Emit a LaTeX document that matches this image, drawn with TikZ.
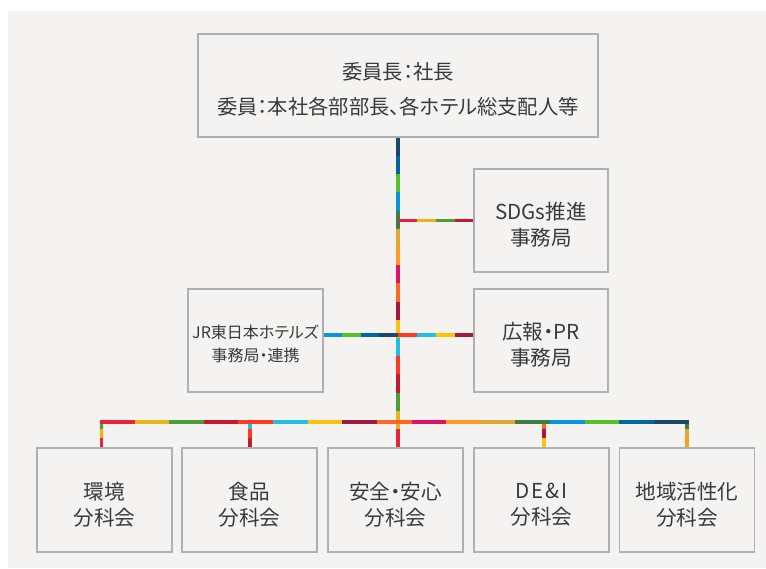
\documentclass[tikz,border=0pt]{standalone}
\usepackage{fontspec}
\setmainfont[RawFeature=+palt]{Noto Sans CJK JP}
\usetikzlibrary{calc}
\definecolor{bg}{HTML}{F4F3F1}
\definecolor{boxline}{HTML}{B0B0B0}
\definecolor{txt}{HTML}{3A3A3A}
\definecolor{s1}{HTML}{E5243B}
\definecolor{s2}{HTML}{E8B416}
\definecolor{s3}{HTML}{4C9F38}
\definecolor{s4}{HTML}{C5192D}
\definecolor{s5}{HTML}{FF3A21}
\definecolor{s6}{HTML}{26BDE2}
\definecolor{s7}{HTML}{FCC30B}
\definecolor{s8}{HTML}{A21942}
\definecolor{s9}{HTML}{FD6925}
\definecolor{s10}{HTML}{DD1367}
\definecolor{s11}{HTML}{FD9D24}
\definecolor{s12}{HTML}{E2A72E}
\definecolor{s13}{HTML}{3F7E44}
\definecolor{s14}{HTML}{0A97D9}
\definecolor{s15}{HTML}{56C02B}
\definecolor{s16}{HTML}{00689D}
\definecolor{s17}{HTML}{19486A}
\newcommand\segline[4]{%
  \foreach \col [count=\i from 0] in {#4} {%
    \draw[seg, draw=\col] ($(#1)!{\i/#3}!(#2)$) -- ($(#1)!{(\i+1)/#3}!(#2)$);
  }}
\begin{document}
\begin{tikzpicture}[x=1pt,y=-1pt,
  box/.style={draw=boxline, fill=bg, line width=1.3pt, inner sep=0pt},
  tx/.style={align=center, text=txt, inner sep=0pt},
  topbox/.style={box, minimum width=400pt, minimum height=103pt},
  midbox/.style={box, minimum width=134pt, minimum height=103pt},
  jrbox/.style={box, minimum width=135pt, minimum height=103pt},
  botbox/.style={box, minimum width=135pt, minimum height=104pt},
  bigtx/.style={tx, font=\fontsize{20.3}{35}\selectfont},
  midtx/.style={tx, font=\fontsize{20.6}{26}\selectfont},
  jrtx/.style={tx, font=\fontsize{16}{23}\selectfont},
  seg/.style={line width=3.2pt, line cap=butt}]
\useasboundingbox (0,0) rectangle (766,568);
\fill[white] (0,0) rectangle (766,568);
\fill[bg] (8,11) rectangle (766,568);

\node[topbox] (top) at (398,85.5) {};
\node[midbox] (sdg) at (541,220.5) {};
\node[midbox] (pr) at (541,340.5) {};
\node[jrbox] (jr) at (255.5,340.5) {};
\node[botbox] (e1) at (104.5,500) {};
\node[botbox] (e2) at (249.5,500) {};
\node[botbox] (e3) at (395.5,500) {};
\node[botbox] (e4) at (541.5,500) {};
\node[botbox] (e5) at (687,500) {};

\node[bigtx] (topt) at ($(top.center)+(0,4)$) {委員長：社長\\委員：本社各部部長、各ホテル総支配人等};
\node[midtx] (sdgt) at ($(sdg.center)+(0,4.5)$) {SDGs推進\\事務局};
\node[midtx] (prt) at ($(pr.center)+(0,4)$) {広報・PR\\事務局};
\node[jrtx] (jrt) at ($(jr.center)+(0,3)$) {JR東日本ホテルズ\\事務局・連携};
\node[midtx] (e1t) at ($(e1.center)+(0,5)$) {環境\\分科会};
\node[midtx] (e2t) at ($(e2.center)+(0,5)$) {食品\\分科会};
\node[midtx] (e3t) at ($(e3.center)+(0,5)$) {安全・安心\\分科会};
\node[midtx] (e4t) at ($(e4.center)+(0,5)$) {D\kern1.5pt E\kern2pt\&\kern2pt I\\分科会};
\node[midtx] (e5t) at ($(e5.center)+(0,5)$) {地域活性化\\分科会};

% coordinates
\coordinate (vend) at (top.south |- e3.north);
\coordinate (sj) at (top.south |- sdg.west);
\coordinate (pj) at ($(top.south |- pr.west)+(0,-5.5)$);
\coordinate (pe) at (pr.west |- pj);
\coordinate (je) at (jr.east |- pj);
\coordinate (bl) at (100,422);
\coordinate (br) at (688.5,422);
\coordinate (d1) at (101.5,420.5);
\coordinate (d2) at (250,420.5);
\coordinate (d4) at (544,420.5);
\coordinate (d5) at (687,420.5);

% vertical trunk
\segline{top.south}{vend}{17}{s17,s16,s15,s14,s13,s12,s11,s10,s9,s8,s7,s6,s5,s4,s3,s2,s1}
% side branches
\segline{sj}{sdg.west}{4}{s1,s2,s3,s4}
\segline{pj}{pe}{4}{s5,s6,s7,s8}
\segline{je}{pj}{4}{s14,s15,s16,s17}
% drops
\segline{d1}{d1 |- e1.north}{3}{s3,s2,s1}
\segline{d2}{d2 |- e2.north}{3}{s6,s5,s4}
\segline{d4}{d4 |- e4.north}{3}{s9,s8,s7}
\segline{d5}{d5 |- e5.north}{3}{s13,s12,s11}
% bus
\segline{bl}{br}{17}{s1,s2,s3,s4,s5,s6,s7,s8,s9,s10,s11,s12,s13,s14,s15,s16,s17}
\end{tikzpicture}
\end{document}
